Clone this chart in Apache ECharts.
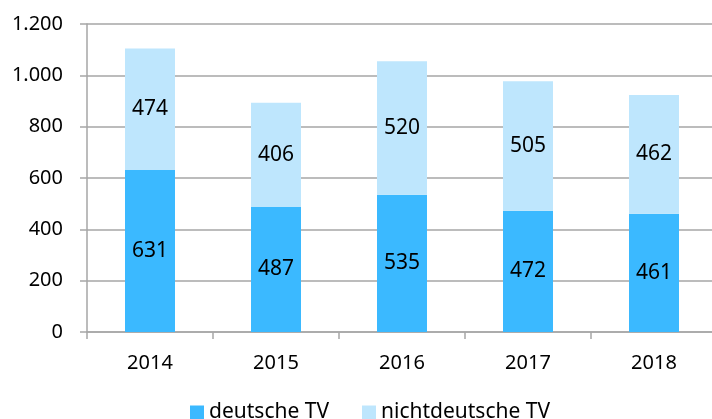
<html>
<head>
<meta charset="utf-8">
<script src="https://cdn.jsdelivr.net/npm/echarts@6/dist/echarts.min.js"></script>
<style>
  html, body { margin: 0; padding: 0; background: #fff; overflow: hidden; }
  #main { width: 717px; height: 419px; }
</style>
</head>
<body>
<div id="main"></div>
<script>
var years = ['2014', '2015', '2016', '2017', '2018'];
var deutsche = [631, 487, 535, 472, 461];
var nichtdeutsche = [474, 406, 520, 505, 462];

var myChart = echarts.init(document.getElementById('main'));
var font = 'Noto Sans';
var gridColor = '#a6a6a6';

function fmt(v) {
    return String(v).replace(/\B(?=(\d{3})+(?!\d))/g, '.');
}

myChart.setOption({
    animation: false,
    backgroundColor: '#fff',
    textStyle: {fontFamily: font},
    // plot area runs slightly past the right edge of the window
    grid: {left: 87, top: 24, right: 0, bottom: 87, containLabel: false},
    legend: {
        bottom: -9,
        left: 185,
        itemWidth: 14,
        itemHeight: 14,
        itemGap: 33,
        icon: 'rect',
        textStyle: {fontSize: 21, color: '#000', fontFamily: font},
        data: ['deutsche TV', 'nichtdeutsche TV']
    },
    xAxis: {
        type: 'category',
        data: years,
        axisLine: {lineStyle: {color: gridColor, width: 1.5}},
        axisTick: {show: true, length: 7, lineStyle: {color: gridColor, width: 1.5}},
        axisLabel: {fontSize: 20, color: '#000', margin: 21, fontFamily: font}
    },
    yAxis: {
        type: 'value',
        min: 0,
        max: 1200,
        interval: 200,
        axisLine: {show: true, lineStyle: {color: gridColor, width: 1.5}},
        axisTick: {show: true, length: 7, lineStyle: {color: gridColor, width: 1.5}},
        splitLine: {lineStyle: {color: gridColor, width: 1.5}},
        axisLabel: {fontSize: 20, color: '#000', margin: 24, fontFamily: font, formatter: fmt}
    },
    series: [
        {
            name: 'deutsche TV',
            type: 'bar',
            stack: 'tv',
            barWidth: 50,
            data: deutsche,
            itemStyle: {color: '#3bb9ff'},
            label: {show: true, position: 'inside', fontSize: 21, color: '#000', fontFamily: font}
        },
        {
            name: 'nichtdeutsche TV',
            type: 'bar',
            stack: 'tv',
            barWidth: 50,
            data: nichtdeutsche,
            itemStyle: {color: '#bee6fd'},
            label: {show: true, position: 'inside', fontSize: 21, color: '#000', fontFamily: font}
        }
    ]
});
</script>
</body>
</html>
